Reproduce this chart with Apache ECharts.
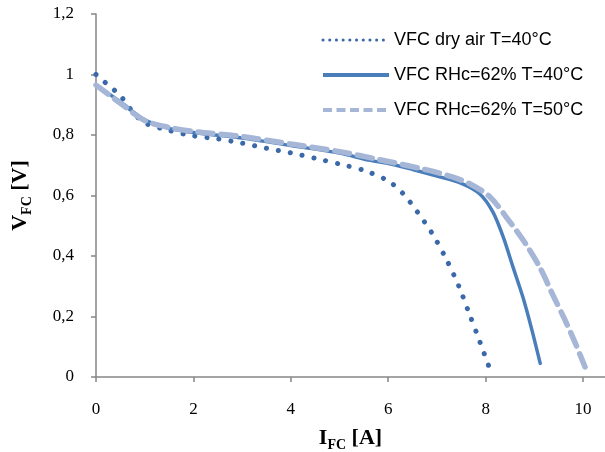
<!DOCTYPE html>
<html>
<head>
<meta charset="utf-8">
<script src="https://cdn.jsdelivr.net/npm/echarts@6/dist/echarts.min.js"></script>
<style>html,body{margin:0;padding:0;background:#fff}#c{width:605px;height:452px}</style>
</head>
<body>
<div id="c"></div>
<script>
// Series data [I_FC (A), V_FC (V)]
var dryAir40 = [[0,1.0],[0.25,0.965],[0.5,0.93],[0.75,0.877],[1.0,0.84],[1.5,0.815],[2.0,0.797],[2.5,0.787],[3.0,0.773],[3.5,0.756],[4.0,0.741],[4.5,0.723],[5.0,0.704],[5.5,0.683],[6.0,0.648],[6.3,0.607],[6.6,0.545],[6.9,0.475],[7.2,0.387],[7.45,0.30],[7.65,0.215],[7.85,0.13],[8.07,0.033]];
var rh62T40 = [[0,0.965],[0.5,0.91],[1.0,0.85],[1.5,0.822],[2.0,0.808],[3.0,0.79],[4.0,0.765],[5.0,0.74],[5.6,0.717],[6.0,0.706],[6.5,0.686],[7.0,0.664],[7.5,0.64],[7.88,0.605],[8.15,0.545],[8.36,0.463],[8.56,0.364],[8.77,0.261],[8.95,0.155],[9.12,0.045]];
var rh62T50 = [[0,0.965],[0.5,0.905],[1.0,0.848],[1.5,0.825],[2.0,0.812],[3.0,0.795],[4.0,0.77],[5.0,0.745],[5.77,0.72],[6.7,0.688],[7.3,0.662],[7.68,0.638],[8.09,0.595],[8.5,0.512],[8.81,0.443],[9.12,0.36],[9.38,0.271],[9.63,0.188],[9.84,0.112],[10.04,0.033]];
var seriesNames = ['VFC dry air T=40°C','VFC RHc=62% T=40°C','VFC RHc=62% T=50°C'];
var xTicks = {min:0, max:10.45, interval:2};
var yTicks = {min:0, max:1.2, interval:0.2};

var chart = echarts.init(document.getElementById('c'));
var axisCol = '#868686';
var serif = 'Liberation Serif';
function comma(v){ return String(Math.round(v*10)/10).replace('.', ','); }
var rich = {
  a:{fontFamily:serif,fontSize:22,fontWeight:'bold',color:'#000',lineHeight:28,verticalAlign:'middle'},
  s:{fontFamily:serif,fontSize:14,fontWeight:'bold',color:'#000',lineHeight:28,verticalAlign:'bottom'}
};
var colors = ['#3a68a8','#4a7ebb','#a5b6d6'];
chart.setOption({
  animation:false,
  grid:{left:96,right:0,top:14,bottom:75,containLabel:false,outerBoundsMode:'none'},
  legend:{
    orient:'vertical', left:316, top:26, itemWidth:66, itemHeight:20, itemGap:17,
    textStyle:{fontFamily:'Liberation Sans',fontSize:18,color:'#000'},
    itemStyle:{opacity:0},
    data:[
      {name:seriesNames[0],lineStyle:{color:colors[0],width:3,type:[0.1,6.6],cap:'round'}},
      {name:seriesNames[1],lineStyle:{color:colors[1],width:4,type:'solid',cap:'butt'}},
      {name:seriesNames[2],lineStyle:{color:colors[2],width:4,type:[9,4.5],cap:'butt'}}
    ]
  },
  xAxis:{
    type:'value', min:xTicks.min, max:xTicks.max, interval:xTicks.interval,
    axisLine:{lineStyle:{color:axisCol,width:1.5}},
    axisTick:{inside:false,length:5,lineStyle:{color:axisCol,width:1.5}},
    splitLine:{show:false},
    axisLabel:{fontFamily:serif,fontSize:17,color:'#000',margin:24,formatter:comma,showMaxLabel:false},
    name:'{a|I}{s|FC}{a| [A]}', nameLocation:'middle', nameGap:47,
    nameTextStyle:{rich:rich}
  },
  yAxis:{
    type:'value', min:yTicks.min, max:yTicks.max, interval:yTicks.interval,
    axisLine:{show:true,lineStyle:{color:axisCol,width:1.5}},
    axisTick:{show:true,inside:false,length:5,lineStyle:{color:axisCol,width:1.5}},
    splitLine:{show:false},
    axisLabel:{fontFamily:serif,fontSize:17,color:'#000',margin:22,formatter:comma},
    name:'{a|V}{s|FC}{a| [V]}', nameLocation:'middle', nameGap:62, nameRotate:90,
    nameTextStyle:{rich:rich}
  },
  series:[
    {name:seriesNames[0],type:'line',data:dryAir40,smooth:0.3,showSymbol:false,symbol:'none',
     lineStyle:{color:colors[0],width:5,type:[0.1,12],cap:'round'},itemStyle:{color:colors[0]}},
    {name:seriesNames[1],type:'line',data:rh62T40,smooth:0.3,showSymbol:false,symbol:'none',
     lineStyle:{color:colors[1],width:3.5,type:'solid',cap:'round'},itemStyle:{color:colors[1]}},
    {name:seriesNames[2],type:'line',data:rh62T50,smooth:0.3,showSymbol:false,symbol:'none',
     lineStyle:{color:colors[2],width:5.5,type:[15,8],cap:'round'},itemStyle:{color:colors[2]}}
  ]
});
</script>
</body>
</html>
